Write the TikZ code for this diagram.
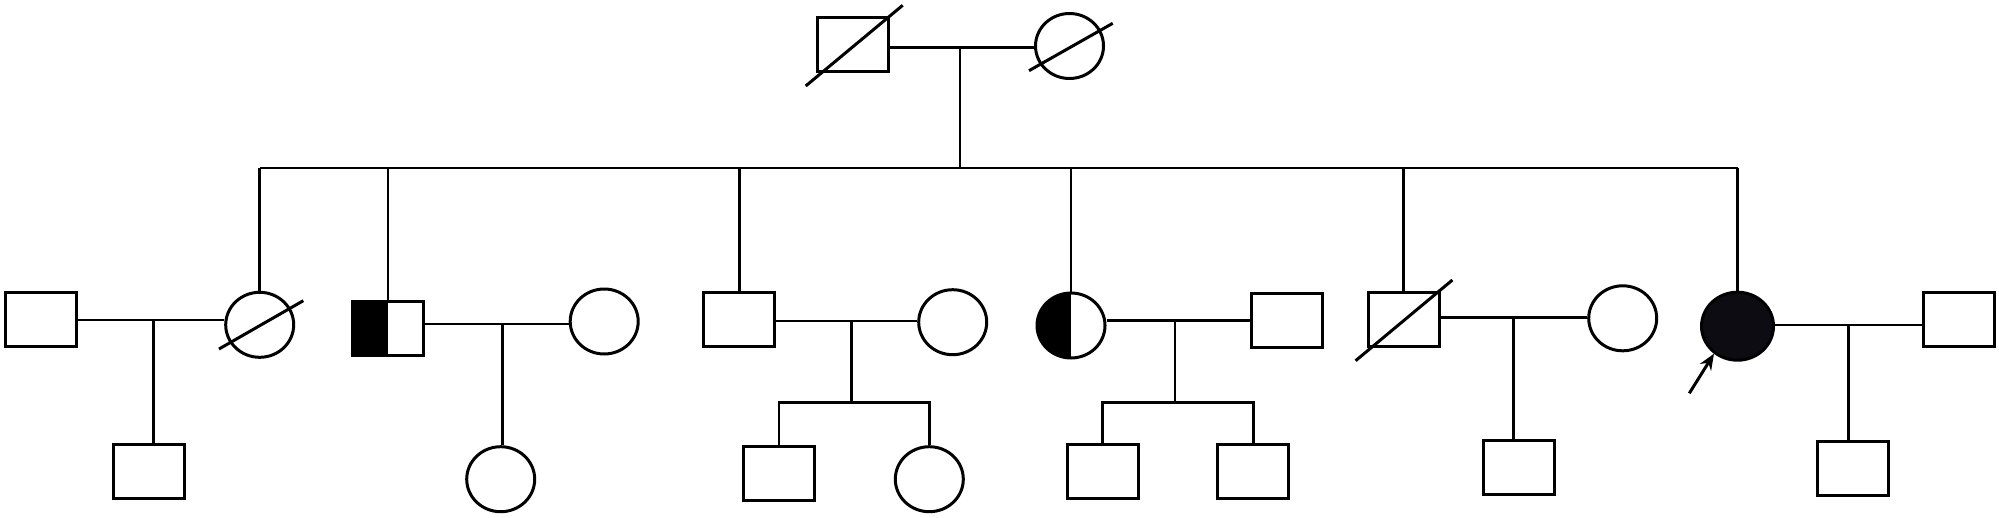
\documentclass[tikz,border=0pt]{standalone}
\usetikzlibrary{shapes.geometric,arrows.meta,calc}
\definecolor{probandfill}{RGB}{12,12,18}
\tikzset{
  ln/.style={line width=2.8pt},
  male/.style={draw, line width=3pt, rectangle, minimum width=71pt, minimum height=54pt, inner sep=0pt},
  female/.style={draw, line width=3pt, ellipse, minimum width=68pt, minimum height=65pt, inner sep=0pt},
  lefthalf/.style={path picture={\fill[black] (path picture bounding box.north west) rectangle (path picture bounding box.south);}},
  slash/.style={line width=3pt},
  pointer/.style={line width=3pt, -{Stealth[length=16pt,width=13pt]}}
}
\begin{document}
\begin{tikzpicture}[x=1pt,y=-1pt]
\useasboundingbox[fill=white] (0,0) rectangle (1999,517);

% generation I
\node[male]   (gf) at (853,44) {};
\node[female] (gm) at (1069.5,46) {};
\coordinate (m0) at (960,47.7);
\coordinate (sib) at (960,168);

% generation II and spouses
\node[male]   (s1)  at (40.5,319.7) {};
\node[female] (d1)  at (259.7,324.8) {};
\node[male, lefthalf] (hs) at (388,328.7) {};
\node[female] (w2)  at (604.2,321.5) {};
\node[male]   (s3)  at (739.2,319.8) {};
\node[female] (w3)  at (952.7,322.2) {};
\node[female, lefthalf] (hc) at (1071,325.5) {};
\node[male]   (h4)  at (1286.9,320) {};
\node[male]   (ds)  at (1403.6,319.7) {};
\node[female] (w5)  at (1622.7,318.3) {};
\node[female, fill=probandfill, minimum width=72pt, minimum height=68pt] (pb) at (1737.5,326.2) {};
\node[male]   (h6)  at (1959.2,319.7) {};

% generation III
\node[male]   (c1)  at (149,471.3) {};
\node[female] (c2)  at (500.7,479.2) {};
\node[male]   (c31) at (779,473.3) {};
\node[female] (c32) at (929.3,479.2) {};
\node[male]   (c41) at (1102.7,471.3) {};
\node[male]   (c42) at (1253.4,471.3) {};
\node[male]   (c5)  at (1518.5,467.8) {};
\node[male]   (c6)  at (1852.7,468.7) {};

% mating points
\coordinate (m1) at (153.3,320);
\coordinate (m2) at (502.1,324);
\coordinate (m3) at (851.7,321);
\coordinate (m4) at (1175,320.7);
\coordinate (m5) at (1513.6,317.3);
\coordinate (m6) at (1848.3,325);
\coordinate (k3) at (851.7,402.5);
\coordinate (k4) at (1175,402.7);

% generation I connections
\draw[ln] (m0 -| gf.east) -- (m0 -| gm.west);
\draw[ln] (m0) -- (sib);
\draw[ln] (d1.north |- sib) -- (pb.north |- sib);
\foreach \c in {d1,hs,s3,hc,ds,pb}{
  \draw[ln] (\c.north) -- (\c.north |- sib);
}

% marriages
\draw[ln] (m1 -| s1.east) -- (m1 -| d1.west);
\draw[ln] (m2 -| hs.east) -- (m2 -| w2.west);
\draw[ln] (m3 -| s3.east) -- (m3 -| w3.west);
\draw[ln] (m4 -| hc.east) -- (m4 -| h4.west);
\draw[ln] (m5 -| ds.east) -- (m5 -| w5.west);
\draw[ln] (m6 -| pb.east) -- (m6 -| h6.west);

% descent lines
\draw[ln] (m1) -- (m1 |- c1.north);
\draw[ln] (m2) -- (m2 |- c2.north);
\draw[ln] (m3) -- (k3);
\draw[ln] (c31.north) -- (c31.north |- k3) -- (c32.north |- k3) -- (c32.north);
\draw[ln] (m4) -- (k4);
\draw[ln] (c41.north) -- (c41.north |- k4) -- (c42.north |- k4) -- (c42.north);
\draw[ln] (m5) -- (m5 |- c5.north);
\draw[ln] (m6) -- (m6 |- c6.north);

% deceased marks
\draw[slash] ($(gf.center)+(-47.3,42)$) -- ($(gf.center)+(49.7,-38.7)$);
\draw[slash] ($(gm.center)+(-40.5,24.7)$) -- ($(gm.center)+(43.2,-22.7)$);
\draw[slash] ($(d1.center)+(-40.7,24.2)$) -- ($(d1.center)+(43.6,-24.1)$);
\draw[slash] ($(ds.center)+(-48,41)$) -- ($(ds.center)+(48.8,-39.7)$);

% proband arrow
\coordinate (arrtail) at (1689.3,393.3);
\draw[pointer] (arrtail) -- ($(pb.center)+(-23.5,27.5)$);
\end{tikzpicture}
\end{document}
